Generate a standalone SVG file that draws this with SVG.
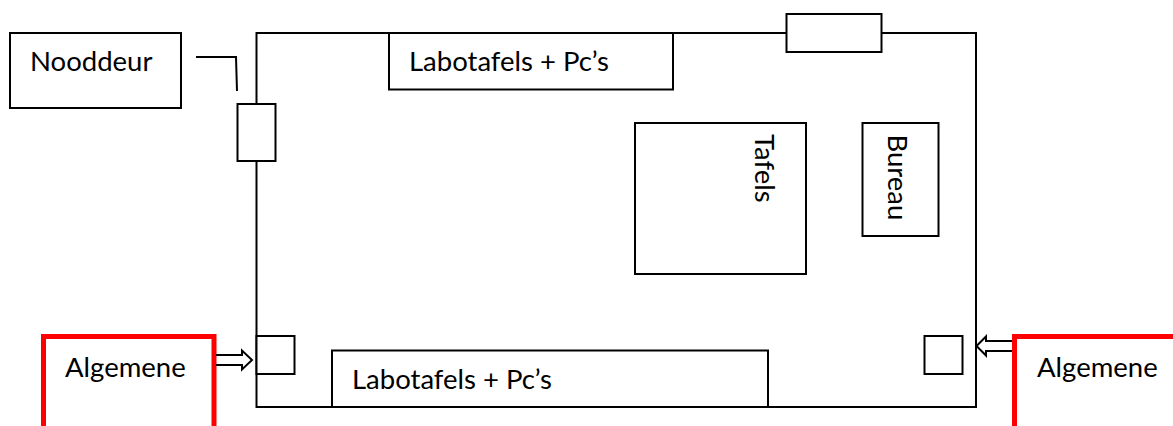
<svg xmlns="http://www.w3.org/2000/svg" width="1173" height="426" viewBox="0 0 1173 426">
<style>
.b{fill:#fff;stroke:#000;stroke-width:2}
.r{fill:#fff;stroke:#f00;stroke-width:5}
.c{fill:none;stroke:#000;stroke-width:2}
text{font-family:"Lato","Open Sans","Liberation Sans",sans-serif;font-size:27.500px;fill:#000}
</style>
<rect width="1173" height="426" fill="#fff"/>
<g id="room"><rect class="b" x="256.500" y="33" width="719.500" height="374"/></g>
<g id="nooddeur"><rect class="b" x="10" y="33" width="171" height="75"/><text x="30" y="71">Nooddeur</text></g>
<g id="door-left"><rect class="b" x="237.500" y="104" width="38" height="57"/></g>
<g id="door-top"><rect class="b" x="786.500" y="14" width="95" height="38"/></g>
<g id="labotafels-top"><rect class="b" x="389" y="33" width="284" height="56.500"/><text x="409" y="71">Labotafels + Pc’s</text></g>
<g id="labotafels-bottom"><rect class="b" x="332" y="350.500" width="436" height="56.500"/><text x="352" y="389">Labotafels + Pc’s</text></g>
<g id="tafels"><rect class="b" x="635" y="123" width="171" height="151"/><text transform="translate(755 134) rotate(90)">Tafels</text></g>
<g id="bureau"><rect class="b" x="862.500" y="123" width="76" height="113"/><text transform="translate(888 134.500) rotate(90)">Bureau</text></g>
<g id="square-left"><rect class="b" x="256.500" y="336" width="38" height="38"/></g>
<g id="square-right"><rect class="b" x="924.500" y="336" width="38" height="38"/></g>
<g id="algemene-left"><path class="r" d="M43.500 426V336.500H214V426"/><text x="65" y="377">Algemene</text></g>
<g id="algemene-right"><path class="r" d="M1173 336.500H1014.500V426"/><text x="1037" y="377">Algemene</text></g>
<g id="connectors">
<path class="c" d="M196 57H236L237 91"/>
<path class="c" d="M216 355H242V350.500L252 360L242 369.500V365H216"/>
<path class="c" d="M1012 341H986V336.500L976.500 346L986 355.500V351H1012"/>
</g>
</svg>
